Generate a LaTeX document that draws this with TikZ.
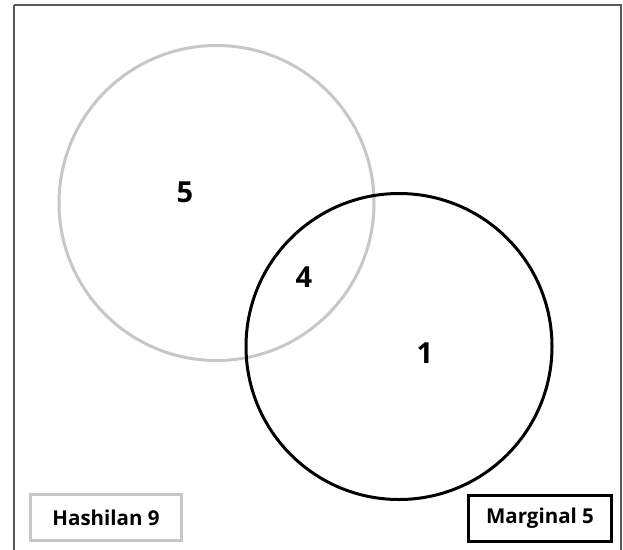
\documentclass[tikz,border=0pt]{standalone}
\usepackage{fontspec}
\setmainfont{Open Sans}
\begin{document}
\begin{tikzpicture}[x=1pt,y=-1pt,
  num/.style={font=\fontsize{29}{29}\selectfont\bfseries, text=black},
  legend/.style={font=\fontsize{20.5}{20.5}\selectfont\bfseries, text=black, line width=3pt, minimum width=151pt, minimum height=46pt, inner sep=0pt}]
\useasboundingbox (0,0) rectangle (623,549);
\draw[line width=2pt, draw=black!65] (14,5) -- (621,5) -- (621,560) (14,5) -- (14,560);
\node[draw=black!22, line width=3pt, circle, minimum size=315pt, inner sep=0pt] (A) at (216.5,203) {};
\node[draw=black, line width=3pt, circle, minimum size=306pt, inner sep=0pt] (B) at (399,346.5) {};
\node[num] (n5) at (185,192) {5};
\node[num] (n4) at (304,277) {4};
\node[num] (n1) at (425,353) {1};
\node[legend, draw=black!22] (h) at (106,517.5) {Hashilan 9};
\node[legend, draw=black, minimum width=143pt] (m) at (540,518) {Marginal 5};
\end{tikzpicture}
\end{document}
